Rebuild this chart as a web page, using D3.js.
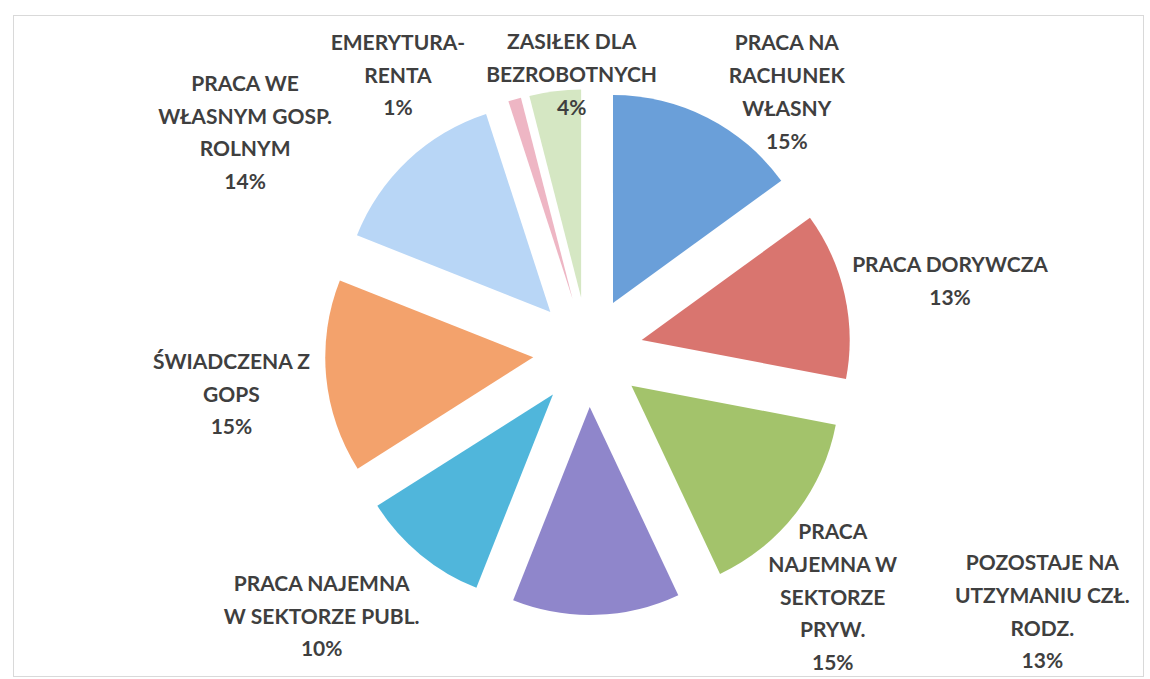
<!DOCTYPE html>
<html>
<head>
<meta charset="utf-8">
<script src="https://cdn.jsdelivr.net/npm/d3@7"></script>
<style>
  body { margin: 0; background: #fff; }
  text { font-family: Lato, "Open Sans", sans-serif; font-weight: bold; fill: #3f3f3f; }
</style>
</head>
<body>
<div id="chart"></div>
<script>
// categories, clockwise from 12 o'clock
var categories = [
    "PRACA NA\nRACHUNEK\nWŁASNY",
    "PRACA DORYWCZA",
    "PRACA\nNAJEMNA W\nSEKTORZE\nPRYW.",
    "POZOSTAJE NA\nUTZYMANIU CZŁ.\nRODZ.",
    "PRACA NAJEMNA\nW SEKTORZE PUBL.",
    "ŚWIADCZENA Z\nGOPS",
    "PRACA WE\nWŁASNYM GOSP.\nROLNYM",
    "EMERYTURA-\nRENTA",
    "ZASIŁEK DLA\nBEZROBOTNYCH"
];
var percents = [15, 13, 15, 13, 10, 15, 14, 1, 4];
var colors = ["#6a9fd9", "#d9756f", "#a3c36b", "#8f86cb", "#50b6db", "#f3a26c", "#b8d6f6", "#eeb6c4", "#d5e7c3"];

// hand tuned label nudges (like excel's moved labels), relative to label arc centroid
var labelShift = [[49, 34], [40, 1], [-16, 43], [444, -70], [-56, 10], [-28, 11], [-117, 21], [-98, 40], [25, 50]];

var w = 1150, h = 679;
var cx = 588, cy = 352;
var radius = 208, explode = 55;
var lineH = 32.7, capH = 15;

var svg = d3.select("#chart").append("svg")
    .attr("width", w)
    .attr("height", h);

// chart frame
svg.append("rect")
    .attr("x", 13.5).attr("y", 15.5)
    .attr("width", 1130).attr("height", 661)
    .attr("fill", "#fff")
    .attr("stroke", "#d9d9d9");

var data = categories.map(function (c, i) {
    return {name: c, value: percents[i], color: colors[i], shift: labelShift[i]};
});

var pie = d3.pie().sort(null).value(function (d) { return d.value; });
var arc = d3.arc().innerRadius(0).outerRadius(radius);
var labelArc = d3.arc().innerRadius(330).outerRadius(330);

var g = svg.append("g").attr("transform", "translate(" + cx + "," + cy + ")");
var arcs = pie(data);

g.selectAll("path.slice")
    .data(arcs)
    .enter().append("path")
    .attr("class", "slice")
    .attr("d", arc)
    .attr("fill", function (d) { return d.data.color; })
    .attr("transform", function (d) {
        var a = (d.startAngle + d.endAngle) / 2;
        return "translate(" + (Math.sin(a) * explode) + "," + (-Math.cos(a) * explode) + ")";
    });

var labels = g.selectAll("text.lbl")
    .data(arcs)
    .enter().append("text")
    .attr("class", "lbl")
    .attr("text-anchor", "middle")
    .style("font-size", "21px")
    .each(function (d) {
        var c = labelArc.centroid(d);
        var x = c[0] + d.data.shift[0], y = c[1] + d.data.shift[1];
        var lines = d.data.name.split("\n");
        lines.push(d.data.value + "%");
        var y0 = y + capH / 2 - (lines.length - 1) * lineH / 2;
        var t = d3.select(this);
        lines.forEach(function (l, i) {
            t.append("tspan")
                .attr("x", x)
                .attr("y", y0 + i * lineH)
                .text(l);
        });
    });
</script>
</body>
</html>
